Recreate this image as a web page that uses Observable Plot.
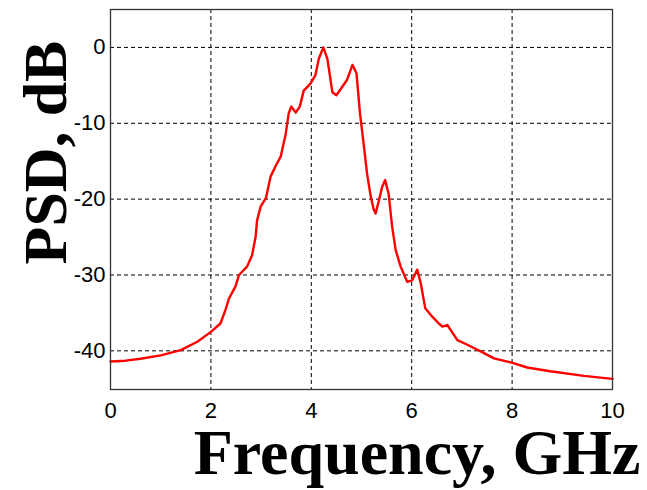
<!DOCTYPE html>
<html>
<head>
<meta charset="utf-8">
<script src="https://cdn.jsdelivr.net/npm/d3@7"></script>
<script src="https://cdn.jsdelivr.net/npm/@observablehq/plot@0.6"></script>
<style>
  html, body { margin: 0; padding: 0; background: #fff; }
</style>
</head>
<body>
<div id="chart"></div>
<script>
const freq = [0, 0.3, 0.6, 1.0, 1.4, 1.73, 2.0, 2.19, 2.29, 2.36, 2.49, 2.56, 2.72, 2.82, 2.89, 2.92, 2.99, 3.1, 3.19, 3.3, 3.39, 3.49, 3.55, 3.6, 3.69, 3.77, 3.85, 3.98, 4.08, 4.15, 4.24, 4.32, 4.42, 4.5, 4.71, 4.82, 4.9, 4.97, 5.05, 5.11, 5.18, 5.24, 5.28, 5.35, 5.41, 5.47, 5.54, 5.61, 5.68, 5.78, 5.91, 6.01, 6.11, 6.18, 6.27, 6.41, 6.54, 6.61, 6.71, 6.77, 6.91, 7.11, 7.44, 7.64, 8.01, 8.3, 8.76, 9.43, 10];
const psd = [-41.4, -41.3, -41.05, -40.6, -39.9, -38.8, -37.5, -36.4, -34.6, -33.1, -31.5, -30.0, -28.9, -27.4, -25.0, -22.8, -21.0, -19.8, -17.0, -15.5, -14.4, -11.4, -8.7, -7.8, -8.6, -7.8, -5.7, -4.8, -3.7, -1.5, 0.0, -1.5, -5.9, -6.3, -4.3, -2.3, -3.4, -8.7, -13.1, -16.6, -19.5, -21.3, -21.9, -20.1, -18.4, -17.5, -19.3, -23.6, -26.7, -28.9, -30.9, -30.7, -29.3, -31.1, -34.4, -35.5, -36.4, -36.8, -36.6, -37.2, -38.6, -39.2, -40.3, -41.0, -41.6, -42.2, -42.7, -43.3, -43.7];
const xTicks = [0, 2, 4, 6, 8, 10];
const yTicks = [-40, -30, -20, -10, 0];
const xLabel = "Frequency, GHz";
const yLabel = "PSD, dB";

const data = freq.map((f, i) => ({f, p: psd[i]}));

const chart = Plot.plot({
  width: 647,
  height: 490,
  marginLeft: 110,
  marginRight: 35,
  marginTop: 9,
  marginBottom: 101,
  style: {background: "#fff", fontFamily: "'Liberation Sans', Arial, sans-serif"},
  x: {domain: [0, 10], ticks: xTicks},
  y: {domain: [-45.1, 5], ticks: yTicks},
  marks: [
    Plot.gridX(xTicks, {stroke: "#000", strokeOpacity: 1, strokeDasharray: "4,3", strokeWidth: 1}),
    Plot.gridY(yTicks, {stroke: "#000", strokeOpacity: 1, strokeDasharray: "4,3", strokeWidth: 1}),
    Plot.axisX(xTicks, {tickSize: 0, tickPadding: 13, fontSize: 22, label: null, tickFormat: d => String(d), fill: "#000"}),
    Plot.axisY(yTicks, {tickSize: 0, tickPadding: 5, fontSize: 22, label: null, tickFormat: d => String(d), fill: "#000"}),
    Plot.line(data, {x: "f", y: "p", stroke: "#ff0000", strokeWidth: 2.4}),
    Plot.frame({stroke: "#333", strokeWidth: 1.3}),
    Plot.text([xLabel], {frameAnchor: "bottom-right", text: d => d, textAnchor: "end", lineAnchor: "middle", dx: 28, dy: 64, fontSize: 64, fontWeight: "bold", fontFamily: "'Liberation Serif', 'Times New Roman', serif", fill: "#000"}),
    Plot.text([yLabel], {frameAnchor: "left", text: d => d, textAnchor: "middle", lineAnchor: "middle", rotate: -90, dx: -64, dy: -47, fontSize: 62, fontWeight: "bold", fontFamily: "'Liberation Serif', 'Times New Roman', serif", fill: "#000"})
  ]
});
document.getElementById("chart").appendChild(chart);
</script>
</body>
</html>
